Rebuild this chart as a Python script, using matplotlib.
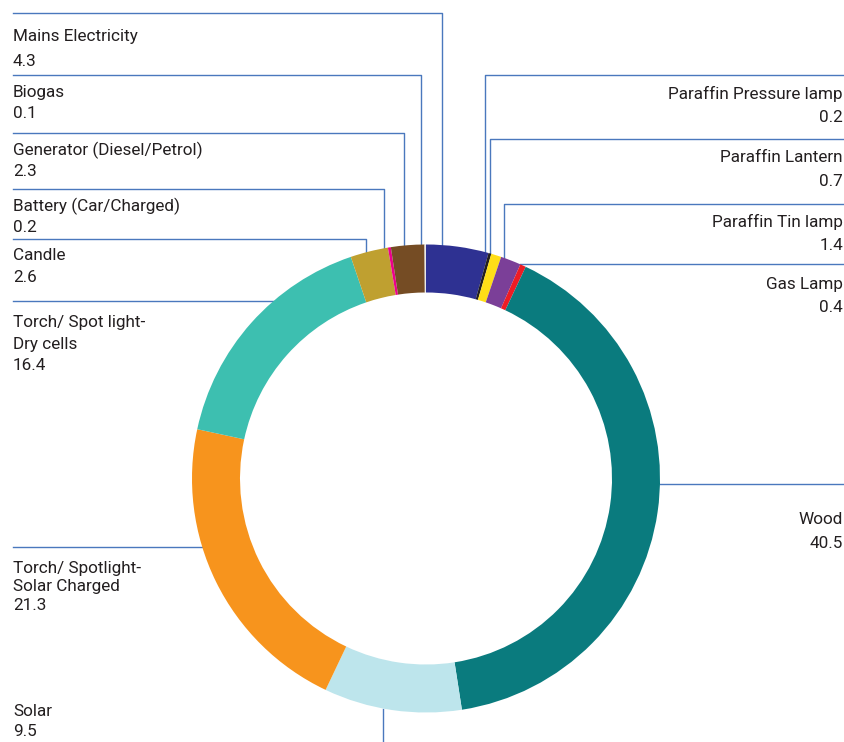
import numpy as np
import matplotlib
matplotlib.use('Agg')
import matplotlib.pyplot as plt

# --- Data ---
labels = ['Mains Electricity', 'Paraffin Pressure lamp', 'Paraffin Lantern', 'Paraffin Tin lamp',
          'Gas Lamp', 'Wood', 'Solar', 'Torch/ Spotlight-\nSolar Charged',
          'Torch/ Spot light-\nDry cells', 'Candle', 'Battery (Car/Charged)',
          'Generator (Diesel/Petrol)', 'Biogas']
values = [4.3, 0.2, 0.7, 1.4, 0.4, 40.5, 9.5, 21.3, 16.4, 2.6, 0.2, 2.3, 0.1]
colors = ['#2e3192', '#231f20', '#ffde17', '#7b3f98', '#ed1c24', '#0a7b7e', '#bde5ec',
          '#f7941d', '#3dbfb0', '#bfa030', '#ec008c', '#754c24', '#e8e8e8']

# --- Layout (pixel coords, y down) ---
cx, cy = 426, 478.5
R, W = 234, 48
line_col = '#4a78bd'
left_x, right_x = 13, 843

# label text position: (x, y of name line, align, line spacing)
text_pos = {
    'Mains Electricity': (left_x, 37, 'left', 25),
    'Biogas': (left_x, 93, 'left', 21),
    'Generator (Diesel/Petrol)': (left_x, 150, 'left', 21),
    'Battery (Car/Charged)': (left_x, 206, 'left', 21),
    'Candle': (left_x, 256, 'left', 22),
    'Torch/ Spot light-\nDry cells': (left_x, 323, 'left', 21.5),
    'Torch/ Spotlight-\nSolar Charged': (left_x, 568, 'left', 19),
    'Solar': (left_x, 712, 'left', 19),
    'Paraffin Pressure lamp': (right_x, 94, 'right', 23),
    'Paraffin Lantern': (right_x, 158, 'right', 23),
    'Paraffin Tin lamp': (right_x, 222, 'right', 24),
    'Gas Lamp': (right_x, 285, 'right', 23),
    'Wood': (right_x, 519, 'right', 24),
}

# leader lines: ('hv', y_h, x_from, x_vert) horizontal then down to ring
#               ('h', y_h, x_far) horizontal to ring; ('v', x, y_end) vertical from ring
leaders = {
    'Mains Electricity': ('hv', 13, left_x, 442),
    'Biogas': ('hv', 75, left_x, 421),
    'Generator (Diesel/Petrol)': ('hv', 133, left_x, 404),
    'Battery (Car/Charged)': ('hv', 189, left_x, 384),
    'Candle': ('hv', 239, left_x, 366),
    'Torch/ Spot light-\nDry cells': ('h', 301, left_x),
    'Torch/ Spotlight-\nSolar Charged': ('h', 547, left_x),
    'Solar': ('v', 383, 742),
    'Paraffin Pressure lamp': ('hv', 75, right_x, 485),
    'Paraffin Lantern': ('hv', 139, right_x, 490),
    'Paraffin Tin lamp': ('hv', 204, right_x, 504),
    'Gas Lamp': ('h', 264, right_x),
    'Wood': ('h', 484, right_x),
}

plt.rcParams['font.family'] = ['Roboto', 'DejaVu Sans']

fig = plt.figure(figsize=(8.45, 7.42), dpi=100)
ax = fig.add_axes([0, 0, 1, 1])

# y axis inverted -> visual clockwise from top is data counterclockwise from -90
ax.pie(values, colors=colors, startangle=-90, counterclock=True, radius=R,
       center=(cx, cy), wedgeprops=dict(width=W, linewidth=0), frame=True)
ax.set_xlim(0, 845)
ax.set_ylim(742, 0)
ax.set_aspect('equal')
ax.axis('off')


def ring_y(x):
    return cy - np.sqrt(R ** 2 - (x - cx) ** 2)


def ring_x(y, side):
    d = np.sqrt(R ** 2 - (y - cy) ** 2)
    return cx + d if side == 'right' else cx - d


for lab, val in zip(labels, values):
    ld = leaders[lab]
    if ld[0] == 'hv':
        _, yh, xf, xv = ld
        ax.plot([xf, xv, xv], [yh, yh, ring_y(xv)], color=line_col, lw=1, zorder=0)
    elif ld[0] == 'h':
        _, yh, xf = ld
        side = 'right' if xf > cx else 'left'
        ax.plot([xf, ring_x(yh, side)], [yh, yh], color=line_col, lw=1, zorder=0)
    else:
        _, xv, ye = ld
        ax.plot([xv, xv], [cy + np.sqrt(R ** 2 - (xv - cx) ** 2), ye],
                color=line_col, lw=1, zorder=0)

    tx, ty, ha, sp = text_pos[lab]
    lines = lab.split('\n') + [f'{val}']
    for i, s in enumerate(lines):
        ax.text(tx, ty + i * sp, s, ha=ha, va='center', fontsize=12.3, color='#231f20')

fig.savefig('out.png', dpi=100, facecolor='white')
